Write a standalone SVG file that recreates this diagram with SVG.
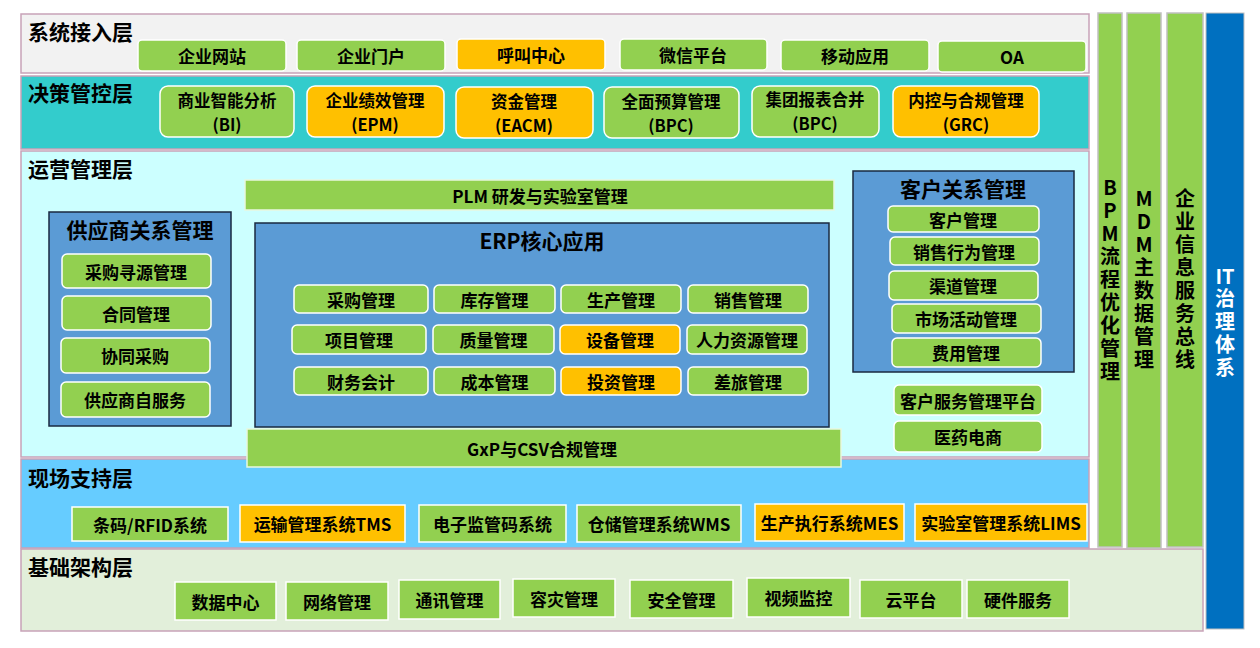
<svg xmlns="http://www.w3.org/2000/svg" width="1260" height="648" viewBox="0 0 1260 648">
<style>
text{font-family:"Noto Sans CJK SC","Microsoft YaHei",sans-serif;font-weight:bold;fill:#000}
.t{font-size:17px;text-anchor:middle;dominant-baseline:central}
.d{font-size:16.5px;text-anchor:middle;dominant-baseline:central}
.lt{font-size:21px;dominant-baseline:central}
.h{font-size:21px;text-anchor:middle;dominant-baseline:central}
.v{font-size:20px;writing-mode:vertical-rl;text-orientation:upright;letter-spacing:3px}
.w{fill:#fff}
.layer{stroke:#c8a2b8;stroke-width:1.5}
.g{fill:#92d050;stroke:#fff;stroke-width:1.5}
.o{fill:#ffc000;stroke:#fff;stroke-width:1.5}
.gp{fill:#92d050;stroke:#e8f8e0;stroke-width:1.5}
.blue{fill:#5b9bd5;stroke:#1a2a40;stroke-width:1.5}
.bar{fill:#92d050;stroke:#c0c0c0;stroke-width:1.5}
</style>

<!-- Layers -->
<g id="layer-access">
<rect class="layer" x="21" y="14" width="1068" height="59" fill="#f2f2f2"/>
<text class="lt" x="28" y="31">系统接入层</text>
</g>
<g id="layer-decision">
<rect class="layer" x="21" y="76" width="1068" height="73" fill="#33cccc"/>
<text class="lt" x="28" y="92">决策管控层</text>
</g>
<g id="layer-operation">
<rect class="layer" x="21" y="151" width="1068" height="306" fill="#ccffff"/>
<text class="lt" x="28" y="168">运营管理层</text>
</g>
<g id="layer-field">
<rect class="layer" x="21" y="459" width="1068" height="89" fill="#66ccff"/>
<text class="lt" x="28" y="477">现场支持层</text>
</g>
<g id="layer-infra">
<rect class="layer" x="21" y="549" width="1182" height="82" fill="#e2efda"/>
<text class="lt" x="28" y="566">基础架构层</text>
</g>

<!-- Access layer nodes -->
<g id="n-qywz"><rect class="g" x="138" y="40" width="148" height="31" rx="4"/><text class="t" x="212" y="55.5">企业网站</text></g>
<g id="n-qymh"><rect class="g" x="297" y="40" width="148" height="31" rx="4"/><text class="t" x="371" y="55.5">企业门户</text></g>
<g id="n-hjzx"><rect class="o" x="457" y="39" width="148" height="31" rx="4"/><text class="t" x="531" y="54.5">呼叫中心</text></g>
<g id="n-wxpt"><rect class="g" x="620" y="39" width="147" height="31" rx="4"/><text class="t" x="693" y="54.5">微信平台</text></g>
<g id="n-ydyy"><rect class="g" x="781" y="40" width="148" height="31" rx="4"/><text class="t" x="855" y="55.5">移动应用</text></g>
<g id="n-oa"><rect class="g" x="938" y="41" width="148" height="31" rx="4"/><text class="t" x="1012" y="56.5">OA</text></g>

<!-- Decision layer nodes -->
<g id="n-bi"><rect class="g" x="160" y="86" width="134" height="51" rx="8"/><text class="d"><tspan x="227" y="99.5">商业智能分析</tspan><tspan x="227" y="123.5">(BI)</tspan></text></g>
<g id="n-epm"><rect class="o" x="307" y="86" width="137" height="51" rx="8"/><text class="d"><tspan x="375" y="99.5">企业绩效管理</tspan><tspan x="375" y="123.5">(EPM)</tspan></text></g>
<g id="n-eacm"><rect class="o" x="456" y="87" width="137" height="51" rx="8"/><text class="d"><tspan x="524" y="100.5">资金管理</tspan><tspan x="524" y="124.5">(EACM)</tspan></text></g>
<g id="n-bpc1"><rect class="g" x="604" y="87" width="135" height="51" rx="8"/><text class="d"><tspan x="671" y="100.5">全面预算管理</tspan><tspan x="671" y="124.5">(BPC)</tspan></text></g>
<g id="n-bpc2"><rect class="g" x="752" y="86" width="127" height="51" rx="8"/><text class="d"><tspan x="815" y="99">集团报表合并</tspan><tspan x="815" y="123">(BPC)</tspan></text></g>
<g id="n-grc"><rect class="o" x="893" y="86" width="146" height="51" rx="8"/><text class="d"><tspan x="966" y="99.5">内控与合规管理</tspan><tspan x="966" y="123.5">(GRC)</tspan></text></g>

<!-- Operation layer -->
<g id="n-plm"><rect class="gp" x="245" y="180" width="589" height="30"/><text class="t" x="540" y="195">PLM 研发与实验室管理</text></g>

<g id="n-srm">
<rect class="blue" x="49" y="212" width="182" height="214"/>
<text class="h" x="140" y="229">供应商关系管理</text>
<rect class="g" x="62" y="254" width="149" height="34" rx="5"/><text class="t" x="136" y="271">采购寻源管理</text>
<rect class="g" x="62" y="296" width="149" height="34" rx="5"/><text class="t" x="136" y="313">合同管理</text>
<rect class="g" x="61" y="338" width="149" height="35" rx="5"/><text class="t" x="135" y="355.5">协同采购</text>
<rect class="g" x="61" y="382" width="149" height="35" rx="5"/><text class="t" x="135" y="399.5">供应商自服务</text>
</g>

<g id="n-erp">
<rect class="blue" x="255" y="223" width="574" height="204"/>
<text class="h" x="542" y="240">ERP核心应用</text>
<rect class="g" x="294" y="285" width="134" height="28" rx="5"/><text class="t" x="361" y="299">采购管理</text>
<rect class="g" x="434" y="285" width="121" height="28" rx="5"/><text class="t" x="494.5" y="299">库存管理</text>
<rect class="g" x="561" y="285" width="120" height="28" rx="5"/><text class="t" x="621" y="299">生产管理</text>
<rect class="g" x="688" y="285" width="120" height="28" rx="5"/><text class="t" x="748" y="299">销售管理</text>
<rect class="g" x="292" y="325" width="134" height="29" rx="5"/><text class="t" x="359" y="339.5">项目管理</text>
<rect class="g" x="433" y="325" width="121" height="29" rx="5"/><text class="t" x="493.5" y="339.5">质量管理</text>
<rect class="o" x="560" y="325" width="120" height="29" rx="5"/><text class="t" x="620" y="339.5">设备管理</text>
<rect class="g" x="687" y="325" width="120" height="29" rx="5"/><text class="t" x="747" y="339.5">人力资源管理</text>
<rect class="g" x="294" y="367" width="134" height="28" rx="5"/><text class="t" x="361" y="381">财务会计</text>
<rect class="g" x="434" y="367" width="121" height="28" rx="5"/><text class="t" x="494.5" y="381">成本管理</text>
<rect class="o" x="561" y="367" width="120" height="28" rx="5"/><text class="t" x="621" y="381">投资管理</text>
<rect class="g" x="688" y="367" width="120" height="28" rx="5"/><text class="t" x="748" y="381">差旅管理</text>
</g>

<g id="n-crm">
<rect class="blue" x="853" y="171" width="221" height="201"/>
<text class="h" x="963" y="188">客户关系管理</text>
<rect class="g" x="888" y="206" width="151" height="26" rx="5"/><text class="t" x="963" y="219">客户管理</text>
<rect class="g" x="890" y="237" width="149" height="28" rx="5"/><text class="t" x="964" y="251">销售行为管理</text>
<rect class="g" x="889" y="271" width="149" height="29" rx="5"/><text class="t" x="963" y="285.5">渠道管理</text>
<rect class="g" x="892" y="304" width="149" height="29" rx="5"/><text class="t" x="966" y="318.5">市场活动管理</text>
<rect class="g" x="892" y="338" width="149" height="29" rx="5"/><text class="t" x="966" y="352.5">费用管理</text>
</g>
<g id="n-kffw"><rect class="g" x="894" y="385" width="148" height="30" rx="5"/><text class="t" x="968" y="400">客户服务管理平台</text></g>
<g id="n-yyds"><rect class="g" x="894" y="421" width="148" height="31" rx="5"/><text class="t" x="968" y="436.5">医药电商</text></g>

<g id="n-gxp"><rect class="gp" x="247" y="429" width="594" height="38"/><text class="t" x="542" y="448">GxP与CSV合规管理</text></g>

<!-- Field layer nodes -->
<g id="n-rfid"><rect class="g" x="72" y="507" width="156" height="34"/><text class="t" x="150" y="524">条码/RFID系统</text></g>
<g id="n-tms"><rect class="o" x="240" y="505" width="165" height="37"/><text class="t" x="322.5" y="523.5">运输管理系统TMS</text></g>
<g id="n-jgm"><rect class="g" x="419" y="505" width="147" height="37"/><text class="t" x="492.5" y="523.5">电子监管码系统</text></g>
<g id="n-wms"><rect class="g" x="577" y="505" width="164" height="37"/><text class="t" x="659" y="523.5">仓储管理系统WMS</text></g>
<g id="n-mes"><rect class="o" x="755" y="504" width="149" height="37"/><text class="t" x="829.5" y="522.5">生产执行系统MES</text></g>
<g id="n-lims"><rect class="o" x="915" y="504" width="172" height="37"/><text class="t" x="1001" y="522.5">实验室管理系统LIMS</text></g>

<!-- Infra layer nodes -->
<g id="n-sjzx"><rect class="g" x="175" y="582" width="101" height="38"/><text class="t" x="225.5" y="601">数据中心</text></g>
<g id="n-wlgl"><rect class="g" x="286" y="582" width="102" height="38"/><text class="t" x="337" y="601">网络管理</text></g>
<g id="n-txgl"><rect class="g" x="399" y="580" width="101" height="39"/><text class="t" x="449.5" y="599.5">通讯管理</text></g>
<g id="n-zzgl"><rect class="g" x="513" y="579" width="102" height="38"/><text class="t" x="564" y="598">容灾管理</text></g>
<g id="n-aqgl"><rect class="g" x="630" y="580" width="103" height="38"/><text class="t" x="681.5" y="599">安全管理</text></g>
<g id="n-spjk"><rect class="g" x="747" y="578" width="103" height="39"/><text class="t" x="798.5" y="597.5">视频监控</text></g>
<g id="n-ypt"><rect class="g" x="860" y="580" width="102" height="38"/><text class="t" x="911" y="599">云平台</text></g>
<g id="n-yjfw"><rect class="g" x="967" y="580" width="102" height="38"/><text class="t" x="1018" y="599">硬件服务</text></g>

<!-- Vertical bars -->
<g id="n-bpm">
<rect class="bar" x="1098" y="13" width="24" height="534"/>
<text class="v" x="1110" y="177">BPM流程优化管理</text>
</g>
<g id="n-mdm">
<rect class="bar" x="1127" y="13" width="34" height="535"/>
<text class="v" x="1144" y="188">MDM主数据管理</text>
</g>
<g id="n-esb">
<rect class="bar" x="1167" y="13" width="36" height="534"/>
<text class="v" x="1185" y="188">企业信息服务总线</text>
</g>
<g id="n-it">
<rect x="1206" y="13" width="38" height="616" fill="#0070c0" stroke="#c0c0c0" stroke-width="1"/>
<text class="w" x="1225" y="275" style="font-size:20px;text-anchor:middle;dominant-baseline:central">IT</text>
<text class="v w" x="1225" y="288">治理体系</text>
</g>

<g id="connectors"></g>
</svg>
